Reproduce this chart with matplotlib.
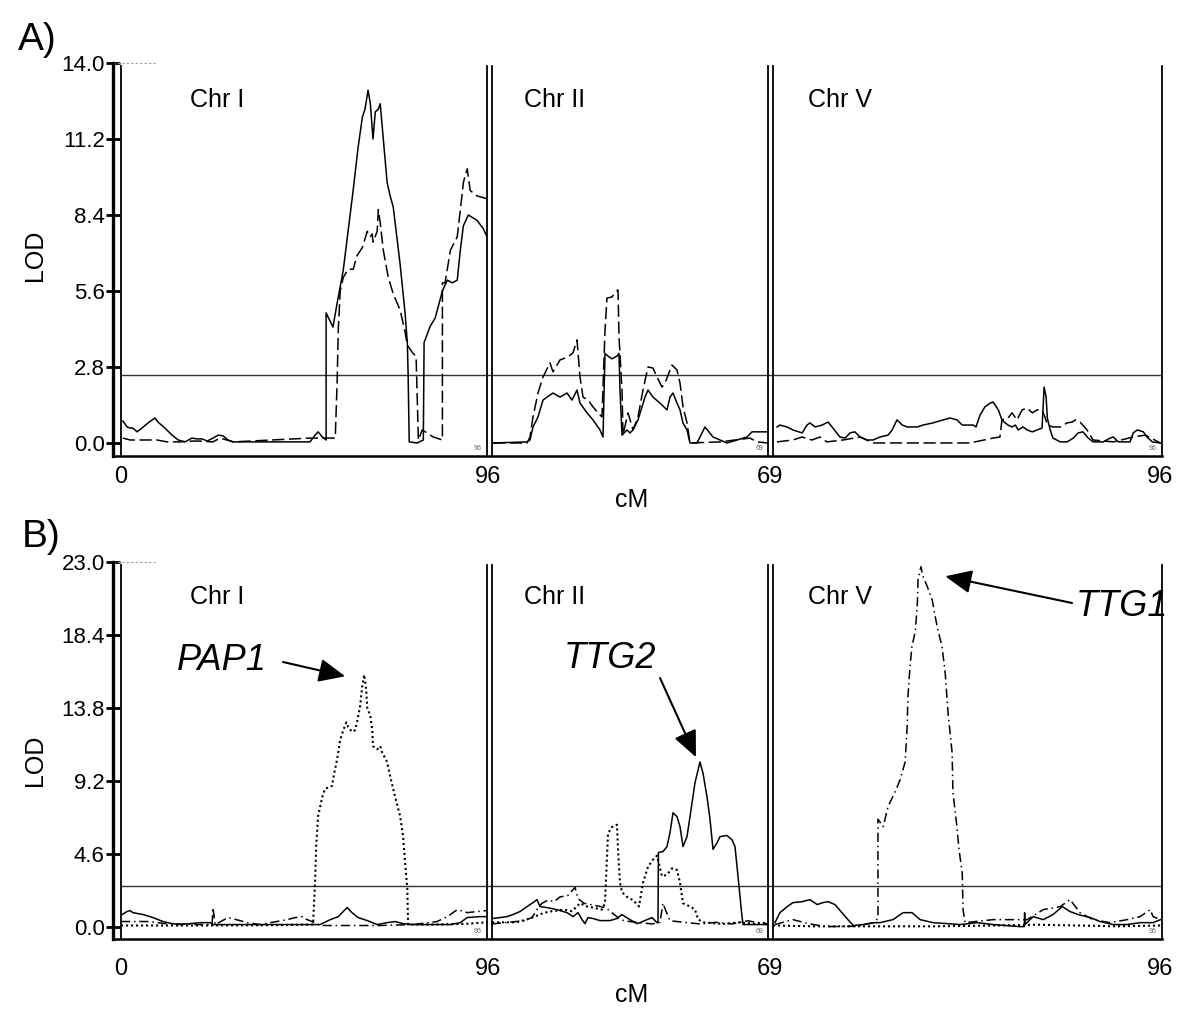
import matplotlib
matplotlib.use("Agg")
import matplotlib.pyplot as plt

plt.rcParams['font.family'] = ['Liberation Sans', 'DejaVu Sans']

chr_names = ["Chr I", "Chr II", "Chr V"]
chr_len = [96, 69, 96]
x_labels = ["0", "96", "69", "96"]

# ---- panel A: two traits (solid, dashed), LOD vs cM
a_ticks = [0.0, 2.8, 5.6, 8.4, 11.2, 14.0]
a_thresh = 2.5

a_chr1_solid = [(0.5, 0.81), (1.6, 0.59), (2.4, 0.55), (3.1, 0.55), (4.2, 0.41), (5.5, 0.55), (7.1, 0.74),
                (8.9, 0.92), (9.7, 0.77), (11.5, 0.55), (13.4, 0.29), (15.0, 0.11), (16.8, 0.04), (18.6, 0.18),
                (19.9, 0.15), (21.3, 0.15), (22.6, 0.07), (24.1, 0.18), (25.5, 0.29), (26.8, 0.26), (28.1, 0.11),
                (29.4, 0.04), (49.6, 0.04), (50.9, 0.29), (51.7, 0.41), (52.8, 0.22), (53.8, 0.11), (53.8, 4.79),
                (55.6, 4.27), (56.7, 5.16), (58.3, 6.37), (60.9, 9.32), (62.2, 10.9), (63.3, 12.0), (64.0, 12.3),
                (64.8, 13.0), (65.4, 12.5), (66.1, 11.2), (66.7, 12.2), (67.5, 12.3), (68.0, 12.5), (68.8, 11.2),
                (69.8, 9.6), (70.6, 9.1), (71.4, 8.7), (73.2, 6.6), (74.5, 4.8), (75.1, 3.7), (75.3, 2.6),
                (75.6, 0.04), (77.7, 0.0), (79.3, 0.11), (79.5, 3.7), (81.1, 4.3), (82.4, 4.6), (84.3, 5.6),
                (85.6, 6.0), (86.9, 5.9), (88.2, 6.0), (89.0, 7.1), (89.8, 8.0), (91.1, 8.4), (93.4, 8.2),
                (95.0, 7.9), (96.0, 7.6)]
a_chr1_dashed = [(0.5, 0.18), (2.4, 0.11), (7.1, 0.11), (9.4, 0.11), (12.1, 0.04), (15.5, 0.04), (18.9, 0.07),
                 (20.7, 0.07), (24.1, 0.04), (26.0, 0.18), (29.4, 0.04), (49.6, 0.18), (56.2, 0.18), (56.7, 2.3),
                 (57.0, 4.2), (57.5, 5.6), (58.3, 6.1), (59.6, 6.4), (60.9, 6.4), (61.9, 6.9), (63.3, 7.2),
                 (64.6, 7.8), (65.4, 7.6), (65.9, 7.7), (66.1, 7.4), (67.2, 7.8), (67.5, 8.6), (68.0, 8.1),
                 (68.8, 7.1), (70.1, 6.1), (71.4, 5.5), (73.2, 4.9), (74.5, 4.1), (75.1, 3.6), (76.6, 3.3),
                 (77.4, 3.2), (78.0, 0.11), (79.0, 0.48), (80.3, 0.37), (81.9, 0.22), (84.3, 0.11), (84.3, 5.9),
                 (85.0, 5.9), (86.4, 7.1), (88.2, 7.6), (89.5, 9.2), (89.8, 9.6), (90.8, 10.1), (91.6, 9.3),
                 (93.4, 9.1), (96.0, 9.0)]
a_chr2_solid = [(0.25, 0.0), (8.75, 0.04), (9.5, 0.11), (10.25, 0.59), (11.5, 0.96), (12.75, 1.58), (13.75, 1.69),
                (15.25, 1.84), (17.0, 1.69), (18.75, 1.84), (20.0, 1.58), (21.25, 1.95), (22.0, 1.47), (23.75, 1.11),
                (25.25, 0.85), (27.0, 0.48), (27.75, 0.22), (28.25, 3.3), (29.0, 3.2), (30.0, 3.1), (31.25, 3.2),
                (31.75, 3.3), (32.0, 1.95), (32.5, 0.29), (33.75, 0.48), (34.5, 0.37), (35.25, 0.48), (36.5, 0.85),
                (38.25, 1.69), (39.0, 1.95), (40.25, 1.69), (42.0, 1.47), (43.75, 1.22), (44.5, 1.69), (45.25, 1.84),
                (46.25, 1.47), (47.0, 1.22), (47.75, 0.74), (48.75, 0.48), (49.5, 0.0), (51.25, 0.0), (53.25, 0.59),
                (55.25, 0.22), (57.0, 0.11), (58.75, 0.0), (61.25, 0.11), (63.75, 0.22), (65.0, 0.41), (67.0, 0.41),
                (69.0, 0.41)]
a_chr2_dashed = [(0.25, 0.0), (8.75, 0.0), (9.5, 0.22), (10.25, 0.96), (11.5, 1.84), (12.75, 2.43), (14.5, 2.95),
                 (15.25, 2.62), (17.0, 3.06), (19.0, 3.17), (20.25, 3.32), (21.25, 3.8), (22.0, 2.43), (22.75, 1.69),
                 (24.0, 1.58), (25.25, 1.33), (26.5, 1.11), (27.5, 0.96), (28.25, 4.16), (28.75, 5.34), (30.0, 5.38),
                 (30.75, 5.53), (31.5, 5.64), (31.75, 3.91), (32.5, 1.95), (32.75, 0.29), (34.0, 1.11), (35.25, 0.48),
                 (36.5, 0.96), (37.75, 1.95), (39.0, 2.8), (40.25, 2.76), (41.25, 2.43), (42.5, 2.06), (43.25, 2.21),
                 (45.0, 2.87), (46.25, 2.69), (47.0, 2.21), (47.75, 1.33), (48.75, 0.74), (49.5, 0.0), (57.0, 0.04),
                 (64.5, 0.18), (66.25, 0.04), (69.0, 0.0)]
a_chr5_solid = [(1.0, 0.59), (1.7, 0.66), (3.5, 0.59), (4.9, 0.48), (7.2, 0.37), (8.4, 0.66), (9.1, 0.74),
                (10.4, 0.59), (12.1, 0.66), (13.6, 0.77), (14.8, 0.55), (16.5, 0.22), (17.8, 0.18), (19.0, 0.37),
                (20.2, 0.41), (21.5, 0.22), (23.2, 0.11), (24.7, 0.11), (26.4, 0.22), (28.4, 0.29), (29.4, 0.48),
                (30.6, 0.85), (31.9, 0.66), (33.1, 0.59), (35.6, 0.59), (37.0, 0.66), (39.5, 0.74), (42.0, 0.85),
                (43.7, 0.92), (45.4, 0.85), (46.7, 0.66), (49.4, 0.66), (50.1, 0.59), (51.1, 1.03), (52.3, 1.33),
                (53.6, 1.47), (54.3, 1.51), (55.6, 1.22), (56.5, 0.85), (57.3, 0.74), (58.0, 0.66), (59.0, 0.59),
                (59.8, 0.66), (60.5, 0.48), (61.7, 0.59), (62.7, 0.48), (64.0, 0.41), (65.2, 0.48), (66.4, 0.55),
                (66.9, 2.06), (67.4, 1.69), (67.7, 0.92), (68.4, 0.48), (69.1, 0.18), (70.9, 0.04), (72.6, 0.04),
                (74.1, 0.18), (75.3, 0.37), (76.5, 0.41), (77.8, 0.18), (79.0, 0.04), (81.5, 0.04), (83.2, 0.18),
                (84.0, 0.22), (85.2, 0.04), (88.1, 0.04), (88.9, 0.37), (89.9, 0.48), (91.4, 0.41), (92.3, 0.22),
                (93.6, 0.04), (95.6, 0.0)]
a_chr5_dashed = [(1.0, 0.04), (4.9, 0.11), (7.2, 0.22), (9.6, 0.11), (11.6, 0.22), (13.3, 0.04), (17.3, 0.11),
                 (21.5, 0.22), (24.7, 0.0), (48.6, 0.0), (54.3, 0.18), (56.0, 0.22), (56.5, 0.85), (58.0, 0.92),
                 (59.0, 1.11), (60.2, 0.85), (61.5, 1.22), (62.7, 1.29), (64.0, 1.11), (65.2, 1.22), (66.4, 1.22),
                 (67.2, 0.92), (67.7, 0.66), (69.1, 0.59), (70.9, 0.59), (72.6, 0.74), (73.8, 0.77), (74.6, 0.85),
                 (75.8, 0.77), (77.5, 0.48), (79.0, 0.11), (84.0, 0.04), (88.9, 0.22), (91.9, 0.29), (95.6, 0.0)]

# ---- panel B: three traits (solid, dotted, dash-dot)
b_ticks = [0.0, 4.6, 9.2, 13.8, 18.4, 23.0]
b_thresh = 2.6

b_chr1_solid = [(0.3, 0.79), (1.6, 0.98), (2.4, 1.04), (3.1, 0.91), (5.8, 0.79), (8.4, 0.6), (11.0, 0.35),
                (13.4, 0.22), (15.5, 0.16), (18.1, 0.22), (20.7, 0.28), (23.4, 0.28), (24.1, 0.16), (33.9, 0.16),
                (52.2, 0.16), (54.9, 0.47), (57.0, 0.66), (59.3, 1.23), (60.6, 0.91), (62.2, 0.6), (64.6, 0.41),
                (67.2, 0.16), (69.8, 0.28), (71.9, 0.35), (74.0, 0.22), (76.6, 0.16), (86.4, 0.16), (89.0, 0.28),
                (90.8, 0.6), (94.2, 0.66), (96.0, 0.66)]
b_chr1_dotted = [(0.0, 0.1), (20.0, 0.1), (40.0, 0.12), (50.4, 0.16), (50.4, 0.35), (50.9, 2.8), (51.2, 5.1),
                 (51.7, 7.0), (52.8, 8.2), (53.5, 8.7), (55.4, 8.9), (55.6, 9.3), (56.7, 10.6), (57.5, 11.8),
                 (58.3, 12.4), (59.1, 12.9), (59.6, 12.6), (60.6, 12.3), (61.4, 12.4), (61.9, 12.9), (62.7, 13.9),
                 (63.3, 15.2), (63.8, 15.9), (64.3, 15.0), (64.6, 13.8), (65.4, 13.3), (65.9, 12.4), (66.1, 11.4),
                 (67.2, 11.2), (68.0, 11.4), (68.5, 11.0), (69.8, 10.4), (70.6, 9.5), (71.9, 8.2), (73.2, 7.0),
                 (74.0, 5.7), (74.5, 4.1), (75.1, 2.4), (75.3, 0.16), (81.1, 0.16), (90.0, 0.2), (96.0, 0.3)]
b_chr1_dashdot = [(0.0, 0.35), (7.6, 0.35), (11.5, 0.22), (20.7, 0.16), (23.9, 0.16), (24.1, 1.23), (24.7, 0.16),
                  (28.1, 0.6), (31.2, 0.41), (33.1, 0.28), (36.5, 0.16), (43.6, 0.47), (45.7, 0.6), (47.5, 0.66),
                  (48.8, 0.47), (50.1, 0.35), (52.2, 0.1), (68.0, 0.1), (76.6, 0.16), (82.9, 0.35), (85.6, 0.66),
                  (88.2, 1.1), (90.8, 0.91), (93.4, 0.98), (96.0, 1.04)]
b_chr2_solid = [(0.0, 0.54), (2.0, 0.6), (3.75, 0.66), (5.25, 0.79), (7.0, 0.98), (8.75, 1.29), (10.25, 1.54),
                (11.25, 1.73), (12.0, 1.29), (13.75, 1.23), (16.25, 1.1), (18.75, 0.91), (20.25, 0.66), (21.5, 0.91),
                (22.5, 0.47), (23.25, 0.22), (24.0, 0.6), (25.25, 0.54), (27.0, 0.41), (29.5, 0.41), (31.25, 0.54),
                (32.5, 0.79), (33.25, 0.66), (34.5, 0.47), (36.25, 0.22), (37.0, 0.28), (38.75, 0.47), (40.0, 0.6),
                (41.25, 0.28), (41.5, 0.28), (41.6, 4.7), (42.75, 4.76), (43.75, 5.07), (44.5, 5.95), (45.25, 7.2),
                (46.25, 6.96), (47.0, 6.33), (47.75, 5.07), (48.75, 5.7), (49.5, 6.96), (50.75, 9.1), (52.0, 10.4),
                (52.75, 9.7), (53.75, 8.2), (54.5, 6.8), (55.25, 4.9), (56.25, 5.3), (57.0, 5.7), (58.75, 5.77),
                (60.0, 5.5), (60.75, 5.07), (61.5, 3.2), (62.5, 0.66), (62.75, 0.16), (65.25, 0.16), (68.75, 0.16)]
b_chr2_dotted = [(0.0, 0.3), (6.0, 0.3), (9.0, 0.5), (11.0, 0.7), (13.0, 0.9), (15.0, 1.0), (18.0, 1.1),
                 (20.0, 1.0), (22.0, 1.5), (23.75, 1.3), (25.75, 1.2), (27.5, 1.1), (28.25, 1.5), (29.0, 5.9),
                 (30.0, 6.3), (31.25, 6.45), (31.5, 4.9), (32.0, 2.8), (32.5, 2.2), (33.75, 1.9), (35.25, 1.7),
                 (36.75, 1.3), (37.75, 2.8), (39.0, 3.8), (40.25, 4.25), (41.25, 4.5), (42.5, 3.2), (43.75, 3.3),
                 (45.0, 3.7), (46.25, 3.6), (47.0, 2.8), (47.75, 1.5), (49.5, 1.3), (50.75, 1.1), (51.5, 0.5),
                 (52.75, 0.3), (58.0, 0.2), (62.0, 0.3), (66.0, 0.2), (69.0, 0.3)]
b_chr2_dashdot = [(0.0, 0.2), (4.0, 0.3), (8.0, 0.4), (10.0, 0.6), (11.5, 1.2), (12.5, 1.5), (14.0, 1.7),
                  (15.5, 1.6), (17.0, 1.9), (19.0, 2.0), (20.75, 2.5), (21.5, 1.8), (23.0, 1.5), (25.0, 1.4),
                  (27.0, 1.3), (28.5, 1.2), (30.0, 0.9), (31.5, 0.6), (33.0, 0.4), (36.0, 0.3), (40.0, 0.2),
                  (42.0, 0.3), (42.75, 1.5), (43.5, 1.0), (44.5, 0.4), (48.0, 0.3), (52.0, 0.2), (56.0, 0.3),
                  (60.0, 0.2), (64.0, 0.4), (66.0, 0.3), (69.0, 0.2)]
b_chr5_solid = [(0.5, 0.28), (1.7, 0.91), (3.5, 1.29), (4.9, 1.54), (7.2, 1.6), (9.1, 1.73), (10.9, 1.42),
                (12.3, 1.54), (13.6, 1.6), (15.3, 1.42), (17.0, 0.91), (18.5, 0.47), (19.8, 0.1), (22.2, 0.16),
                (24.7, 0.28), (26.4, 0.28), (29.6, 0.47), (32.1, 0.91), (34.3, 0.91), (36.3, 0.47), (39.5, 0.28),
                (46.2, 0.16), (50.4, 0.28), (54.3, 0.16), (61.0, 0.03), (62.0, 0.03), (62.1, 0.9), (62.2, 0.16),
                (64.2, 0.66), (66.7, 0.47), (69.1, 0.79), (71.4, 1.29), (73.3, 0.98), (75.3, 0.79), (78.3, 0.6),
                (80.7, 0.35), (84.0, 0.16), (87.4, 0.16), (90.6, 0.28), (93.8, 0.28), (95.6, 0.47)]
b_chr5_dotted = [(0.0, 0.1), (10.0, 0.05), (25.0, 0.05), (40.0, 0.05), (55.0, 0.1), (65.0, 0.15), (75.0, 0.1),
                 (85.0, 0.05), (96.0, 0.1)]
b_chr5_dashdot = [(0.5, 0.16), (4.9, 0.47), (9.0, 0.2), (13.3, 0.03), (20.0, 0.05), (25.2, 0.28), (25.9, 0.6),
                  (25.9, 6.8), (27.2, 6.33), (28.4, 7.6), (30.1, 8.5), (31.4, 9.3), (32.6, 10.4), (33.1, 12.6),
                  (33.3, 14.5), (33.8, 16.4), (34.3, 17.7), (35.1, 18.6), (35.6, 20.2), (35.8, 21.9), (36.5, 22.7),
                  (37.0, 22.1), (38.0, 21.5), (39.3, 20.6), (40.0, 19.6), (40.7, 18.7), (41.7, 17.7), (42.5, 16.0),
                  (43.2, 13.5), (44.2, 11.0), (44.4, 8.5), (45.4, 6.3), (45.9, 4.9), (46.7, 3.4), (46.9, 1.1),
                  (47.4, 0.28), (54.3, 0.47), (62.7, 0.47), (66.7, 1.1), (70.9, 1.29), (73.3, 1.73), (75.8, 0.9),
                  (79.0, 0.47), (83.2, 0.28), (87.4, 0.47), (90.6, 0.66), (93.1, 1.1), (93.8, 0.66), (95.6, 0.47)]

# where the gene arrows point (chromosome index, cM, LOD)
pap1_tip = (0, 58.8, 15.8)
ttg2_tip = (1, 51.0, 10.7)
ttg1_tip = (2, 42.5, 22.1)

styles = {
    'solid': dict(ls='-', lw=1.1),
    'dashed': dict(ls=(0, (8, 3)), lw=1.1),
    'dotted': dict(ls=(0, (1, 1.4)), lw=1.5),
    'dashdot': dict(ls=(0, (6, 2.5, 1, 2.5)), lw=1.1),
}

W, H = 1200, 1033
fig = plt.figure(figsize=(W / 100, H / 100), dpi=100)


def rect(x0, y0, x1, y1):
    return [x0 / W, 1 - y1 / H, (x1 - x0) / W, (y1 - y0) / H]


chr_px = [(121, 487), (492, 768), (773, 1162)]
small_lbl = ["96", "69", "96"]


def panel(top, bottom, ymin, ymax, ticks, thresh, traces):
    bg = fig.add_axes(rect(113, top, 1162, bottom))
    bg.set_xlim(0, 1)
    bg.set_ylim(ymin, ymax)
    bg.spines['top'].set_visible(False)
    bg.spines['right'].set_visible(False)
    bg.spines['left'].set_linewidth(2.4)
    bg.spines['bottom'].set_linewidth(1.8)
    bg.set_xticks([])
    bg.set_yticks(ticks)
    bg.set_yticklabels(["%.1f" % t for t in ticks])
    bg.tick_params(axis='y', direction='inout', length=10, width=2, labelsize=16, pad=1)
    bg.axhline(thresh, xmin=8 / 1049, xmax=1, color='#333333', lw=1.0)
    bg.plot([0, 42 / 1049], [ymax, ymax], ls=(0, (2, 2)), color='#999999', lw=0.8, clip_on=False)
    axes = []
    for i, (x0, x1) in enumerate(chr_px):
        ax = fig.add_axes(rect(x0, top + 3, x1, bottom))
        ax.patch.set_visible(False)
        ax.set_xlim(0, chr_len[i])
        ax.set_ylim(ymin, ymax - (ymax - ymin) * 3 / (bottom - top))
        ax.spines['top'].set_visible(False)
        ax.spines['bottom'].set_visible(False)
        ax.spines['left'].set_linewidth(1.3)
        ax.spines['right'].set_linewidth(1.3)
        ax.set_xticks([])
        ax.set_yticks([])
        ax.text(0.985, 0.01, small_lbl[i], transform=ax.transAxes, ha='right', va='bottom',
                fontsize=5, color='#666666')
        axes.append(ax)
    for ci, data, st in traces:
        xs = [p[0] for p in data]
        ys = [p[1] for p in data]
        axes[ci].plot(xs, ys, color='black', **styles[st])
    return bg, axes


bgA, axA = panel(63, 456, -0.48, 14.0, a_ticks, a_thresh, [
    (0, a_chr1_solid, 'solid'), (0, a_chr1_dashed, 'dashed'),
    (1, a_chr2_solid, 'solid'), (1, a_chr2_dashed, 'dashed'),
    (2, a_chr5_solid, 'solid'), (2, a_chr5_dashed, 'dashed'),
])
bgB, axB = panel(562, 939, -0.75, 23.0, b_ticks, b_thresh, [
    (0, b_chr1_solid, 'solid'), (0, b_chr1_dotted, 'dotted'), (0, b_chr1_dashdot, 'dashdot'),
    (1, b_chr2_solid, 'solid'), (1, b_chr2_dotted, 'dotted'), (1, b_chr2_dashdot, 'dashdot'),
    (2, b_chr5_solid, 'solid'), (2, b_chr5_dotted, 'dotted'), (2, b_chr5_dashdot, 'dashdot'),
])


def ftext(x, y, s, **kw):
    fig.text(x / W, 1 - y / H, s, **kw)


for yl, ycm, ylod, ypan, ychr in [(477, 500, 255, 40, 100), (969, 995, 760, 535, 597)]:
    for xp, lab in zip([121, 488, 770, 1160], x_labels):
        ftext(xp, yl, lab, ha='center', va='center', fontsize=17)
    ftext(632, ycm, "cM", ha='center', va='center', fontsize=18)
    ftext(35, ylod, "LOD", ha='center', va='center', fontsize=18, rotation=90)
    for xp, name in zip([190, 524, 808], chr_names):
        ftext(xp, ychr, name, ha='left', va='center', fontsize=18)
ftext(18, 40, "A)", ha='left', va='center', fontsize=28)
ftext(22, 537, "B)", ha='left', va='center', fontsize=28)

# gene labels with arrows
ftext(222, 660, "PAP1", ha='center', va='center', fontsize=26, style='italic')
ftext(610, 658, "TTG2", ha='center', va='center', fontsize=26, style='italic')
ftext(1168, 607, "TTG1", ha='right', va='center', fontsize=26, style='italic')

arrow = dict(arrowstyle='-|>,head_length=0.9,head_width=0.4', color='black', lw=1.5,
             shrinkA=0, shrinkB=0, mutation_scale=18)
for (ci, cx, cy), (sx, sy) in [(pap1_tip, (283, 662)),
                               (ttg2_tip, (660, 678)),
                               (ttg1_tip, (1072, 603))]:
    axB[ci].annotate('', xy=(cx, cy), xytext=(sx / W, 1 - sy / H), textcoords='figure fraction',
                     arrowprops=arrow, annotation_clip=False)

fig.savefig("out.png", dpi=100)
